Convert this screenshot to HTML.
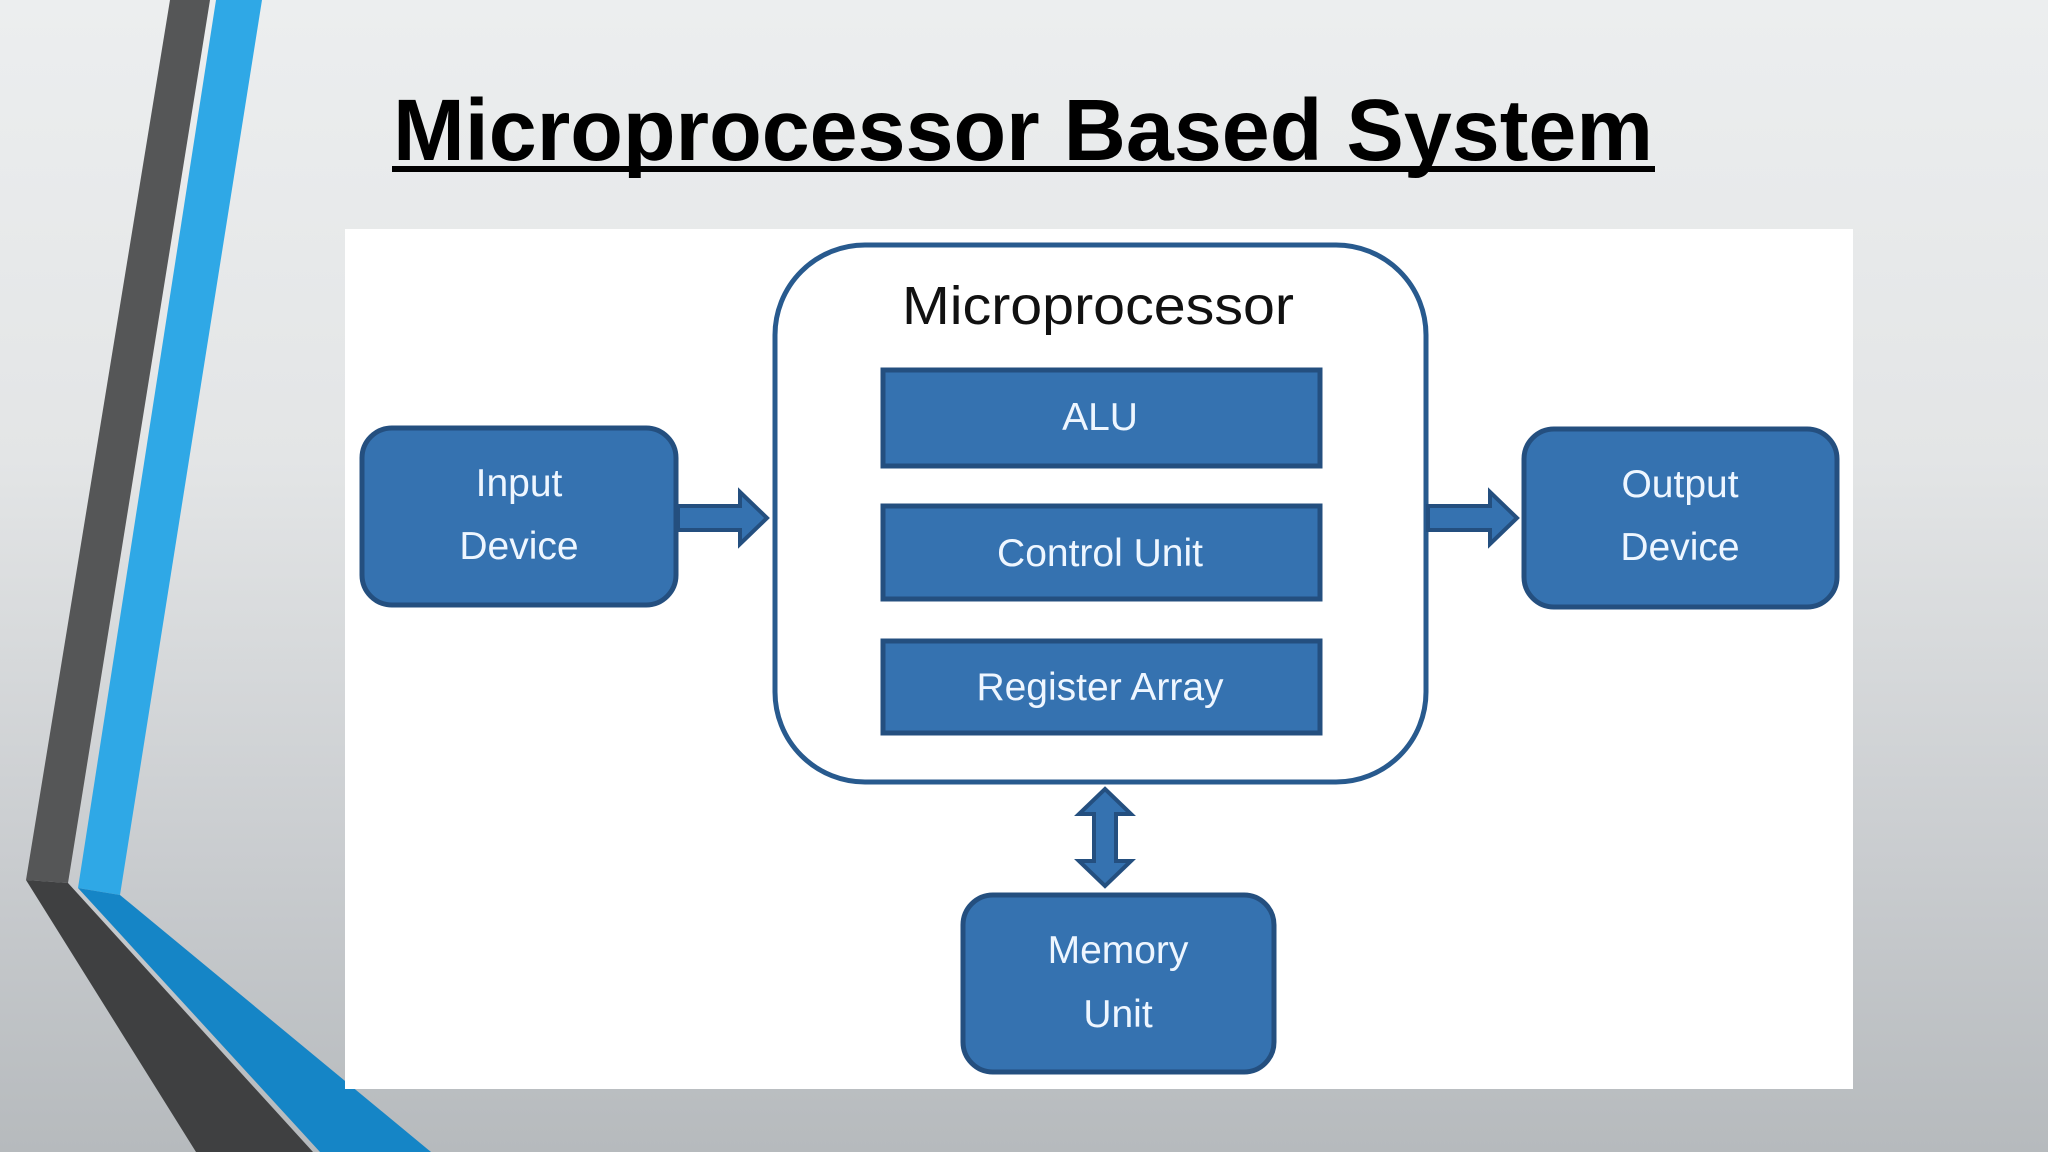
<!DOCTYPE html>
<html><head><meta charset="utf-8"><style>
html,body{margin:0;padding:0;width:2048px;height:1152px;overflow:hidden}
body{background:linear-gradient(180deg,#eceeef 0%,#e3e5e6 40%,#c9cccf 75%,#b6babd 100%)}
svg{position:absolute;left:0;top:0}
</style></head><body>
<svg width="2048" height="1152" viewBox="0 0 2048 1152" xmlns="http://www.w3.org/2000/svg">
<polygon points="170,0 210,0 68,883 26,880" fill="#555657"/>
<polygon points="26,880 68,883 313,1152 196,1152" fill="#3f4041"/>
<polygon points="216,0 262,0 120,895 78,888" fill="#2fa8e6"/>
<polygon points="78,888 120,895 431,1152 320,1152" fill="#1585c6"/>
<text x="393" y="160" font-family="Liberation Sans, sans-serif" font-weight="bold" font-size="87" textLength="1260" lengthAdjust="spacingAndGlyphs" fill="#000">Microprocessor Based System</text>
<rect x="392" y="166" width="1263" height="6" fill="#000"/>
<rect x="345" y="229" width="1508" height="860" fill="#fff"/>
<rect x="775" y="245" width="651" height="537" rx="90" fill="#fff" stroke="#285a8e" stroke-width="5"/>
<text x="1098" y="324" text-anchor="middle" font-family="Liberation Sans, sans-serif" font-size="54" textLength="392" lengthAdjust="spacingAndGlyphs" fill="#111">Microprocessor</text>
<g fill="#3572b0" stroke="#244f7f" stroke-width="5">
<rect x="883" y="370" width="437" height="96"/>
<rect x="883" y="506" width="437" height="93"/>
<rect x="883" y="641" width="437" height="92"/>
</g>
<g font-family="Liberation Sans, sans-serif" font-size="39" fill="#eef6ff" text-anchor="middle">
<text x="1100" y="430">ALU</text>
<text x="1100" y="566">Control Unit</text>
<text x="1100" y="700">Register Array</text>
</g>
<g fill="#3572b0" stroke="#244f7f" stroke-width="5">
<rect x="362" y="428" width="314" height="177" rx="30"/>
<rect x="1524" y="429" width="313" height="178" rx="30"/>
<rect x="963" y="895" width="311" height="177" rx="30"/>
</g>
<g font-family="Liberation Sans, sans-serif" font-size="39" fill="#eef6ff" text-anchor="middle">
<text x="519" y="496">Input</text>
<text x="519" y="559">Device</text>
<text x="1680" y="497">Output</text>
<text x="1680" y="560">Device</text>
<text x="1118" y="963">Memory</text>
<text x="1118" y="1027">Unit</text>
</g>
<g fill="#3572b0" stroke="#244f7f" stroke-width="4" stroke-linejoin="miter">
<polygon points="678,506 740,506 740,492 767,518 740,544 740,530 678,530"/>
<polygon points="1428,506 1490,506 1490,492 1517,518 1490,544 1490,530 1428,530"/>
<polygon points="1105,789 1131,814 1116,814 1116,861 1131,861 1105,886 1079,861 1094,861 1094,814 1079,814"/>
</g>
</svg>
</body></html>
